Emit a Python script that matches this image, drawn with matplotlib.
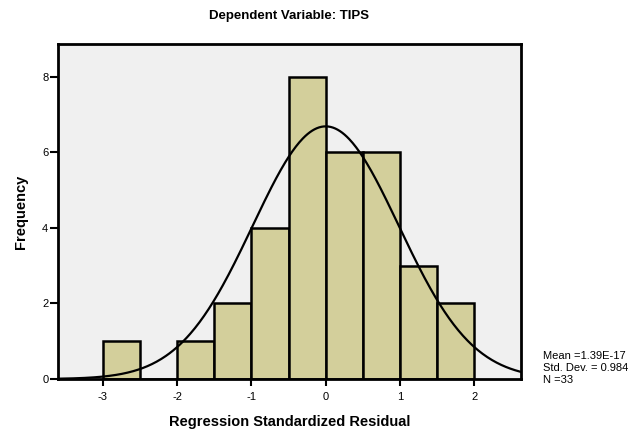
import numpy as np
import matplotlib.pyplot as plt

plt.rcParams['font.family'] = 'Liberation Sans'
plt.rcParams['axes.unicode_minus'] = False

# histogram of regression standardized residuals (bin width 0.5)
bin_left = [-3.0, -2.5, -2.0, -1.5, -1.0, -0.5, 0.0, 0.5, 1.0, 1.5]
counts = [1, 0, 1, 2, 4, 8, 6, 6, 3, 2]
bin_width = 0.5
resid_mean = 1.39e-17
resid_sd = 0.984
n_obs = 33

xticks = [-3, -2, -1, 0, 1, 2]
yticks = [0, 2, 4, 6, 8]

fig = plt.figure(figsize=(6.38, 4.38), dpi=100)
ax = fig.add_axes([0.0909, 0.1347, 0.7257, 0.7648])
ax.set_facecolor('#f0f0f0')

ax.bar(bin_left, counts, width=bin_width, align='edge', color='#d3cf9b',
       edgecolor='black', linewidth=1.8, zorder=2)

# normal curve scaled to counts
xs = np.linspace(-3.606, 2.63, 400)
ys = n_obs * bin_width / (resid_sd * np.sqrt(2 * np.pi)) * np.exp(-0.5 * ((xs - resid_mean) / resid_sd) ** 2)
ax.plot(xs, ys, color='black', linewidth=1.6, zorder=3)

ax.set_xlim(-3.606, 2.63)
ax.set_ylim(0, 8.87)
ax.set_xticks(xticks)
ax.set_yticks(yticks)
ax.tick_params(axis='x', labelsize=8, length=5, width=1.5, pad=4)
ax.tick_params(axis='y', labelsize=8, length=6, width=1.5, pad=1)
for s in ax.spines.values():
    s.set_linewidth(2)

ax.set_title('Dependent Variable: TIPS', fontsize=9.5, fontweight='bold', pad=18)
ax.set_xlabel('Regression Standardized Residual', fontsize=10.5, fontweight='bold', labelpad=10)
ax.set_ylabel('Frequency', fontsize=10.5, fontweight='bold', labelpad=10)

fig.text(0.851, 0.16, 'Mean =1.39E-17\nStd. Dev. = 0.984\nN =33', fontsize=8,
         va='center', ha='left', linespacing=1.2)

fig.savefig('out.png', dpi=100)
